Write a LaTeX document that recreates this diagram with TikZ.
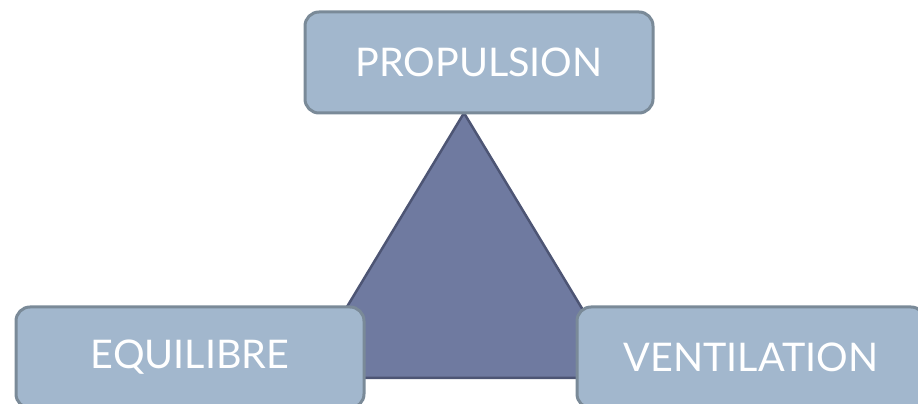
\documentclass[tikz,border=0pt]{standalone}
\usepackage{fontspec}
\setsansfont{Lato}
\usepackage{tikz}

\definecolor{boxfill}{HTML}{A2B7CD}
\definecolor{boxline}{HTML}{7A8A98}
\definecolor{trifill}{HTML}{6F7AA0}
\definecolor{triline}{HTML}{4D5574}

\begin{document}
\begin{tikzpicture}[font=\sffamily,x=1pt,y=1pt,
  blockbox/.style={draw=boxline,fill=boxfill,line width=3pt,rounded corners=14pt,
    minimum width=348pt,minimum height=101pt,text=white,font=\sffamily\fontsize{39.5}{44}\selectfont}]

\useasboundingbox (0,0) rectangle (918,404);

\coordinate (apex) at (464, 291);
\coordinate (bl) at (304, 26);
\coordinate (br) at (624, 26);

\draw [fill=trifill,draw=triline,line width=2.5pt] (apex) -- (bl) -- (br) -- cycle;

\node [blockbox] (prop) at (479, 341.5) {PROPULSION};
\node [blockbox] (equi) at (190, 46.5) {EQUILIBRE};
\node [blockbox] (vent) at (751, 46.5) {VENTILATION};

\end{tikzpicture}
\end{document}
